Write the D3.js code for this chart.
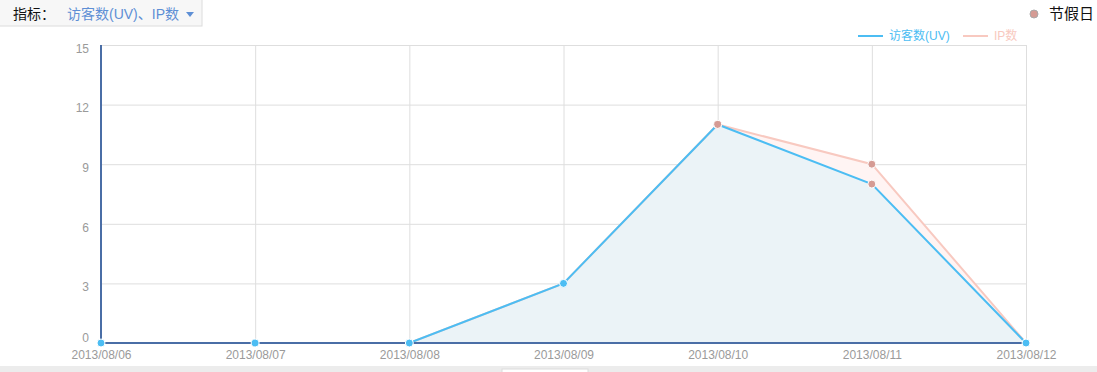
<!DOCTYPE html>
<html>
<head>
<meta charset="utf-8">
<script src="https://cdn.jsdelivr.net/npm/d3@7"></script>
<style>
  body { margin: 0; background: #fff; font-family: Arial, "Liberation Sans", "Noto Sans CJK SC", sans-serif; }
  svg { display: block; }
</style>
</head>
<body>
<div id="chart"></div>
<script>
// data
let dates = ["2013/08/06", "2013/08/07", "2013/08/08", "2013/08/09", "2013/08/10", "2013/08/11", "2013/08/12"];
let uv = [0, 0, 0, 3, 11, 8, 0];
let ip = [0, 0, 0, 3, 11, 9, 0];
let holidays = ["2013/08/10", "2013/08/11"];
let yTicks = [0, 3, 6, 9, 12, 15];

let w = 1097, h = 372;
let plotLeft = 101, plotRight = 1026, plotTop = 45, plotBottom = 343;

let blue = "#4cbdf3", pink = "#f8c9c0", holidayColor = "#d59b94";

let viz = d3.select("#chart").append("svg")
  .attr("width", w)
  .attr("height", h);

// selector box top left
viz.append("rect").attr("x", -1).attr("y", -1).attr("width", 203).attr("height", 27)
  .attr("fill", "#f7f7f7").attr("stroke", "#dcdcdc");
viz.append("text").attr("x", 13).attr("y", 19).text("指标：")
  .style("font-size", "14px").attr("fill", "#111");
viz.append("text").attr("x", 67).attr("y", 19).text("访客数(UV)、IP数")
  .style("font-size", "14px").attr("fill", "#5e8fd5");
viz.append("path").attr("d", "M186,12 L194,12 L190,17 Z").attr("fill", "#5e8fd5");

// holiday legend
viz.append("circle").attr("cx", 1034).attr("cy", 14).attr("r", 4)
  .attr("fill", holidayColor).attr("stroke", "#a9a9a9").attr("stroke-width", 1);
viz.append("text").attr("x", 1049).attr("y", 19).text("节假日")
  .style("font-size", "15px").attr("fill", "#111");

// series legend
viz.append("line").attr("x1", 858).attr("x2", 883).attr("y1", 36).attr("y2", 36)
  .attr("stroke", blue).attr("stroke-width", 2);
viz.append("text").attr("x", 889).attr("y", 40).text("访客数(UV)")
  .style("font-size", "12px").attr("fill", blue);
viz.append("line").attr("x1", 963).attr("x2", 988).attr("y1", 36).attr("y2", 36)
  .attr("stroke", pink).attr("stroke-width", 2);
viz.append("text").attr("x", 994).attr("y", 40).text("IP数")
  .style("font-size", "12px").attr("fill", pink);

let xScale = d3.scalePoint().domain(dates).range([plotLeft, plotRight]);
let yScale = d3.scaleLinear().domain([0, 15]).range([plotBottom, plotTop]);

// grid
viz.append("g").selectAll("line").data(yTicks).enter().append("line")
  .attr("x1", plotLeft).attr("x2", plotRight)
  .attr("y1", d => yScale(d) + 0.5).attr("y2", d => yScale(d) + 0.5)
  .attr("stroke", "#dedede");
viz.append("g").selectAll("line").data(dates).enter().append("line")
  .attr("x1", d => xScale(d) + 0.5).attr("x2", d => xScale(d) + 0.5)
  .attr("y1", plotTop).attr("y2", plotBottom)
  .attr("stroke", "#dedede");

// y labels, sit a little below their gridline (0 sits above the axis)
let yAxis = d3.axisLeft(yScale).tickValues(yTicks).tickSize(0).tickPadding(12);
let yAxisGroup = viz.append("g").attr("transform", "translate(" + plotLeft + ",0)").call(yAxis);
yAxisGroup.select(".domain").remove();
yAxisGroup.selectAll("text").style("font-size", "12px").attr("fill", "#9a9a9a")
  .attr("dy", d => d == 0 ? "-0.12em" : "0.6em")
  .style("font-family", "Arial, 'Liberation Sans', sans-serif");

// x labels
let xAxis = d3.axisBottom(xScale).tickSize(0).tickPadding(7);
let xAxisGroup = viz.append("g").attr("transform", "translate(0," + plotBottom + ")").call(xAxis);
xAxisGroup.select(".domain").remove();
xAxisGroup.selectAll("text").style("font-size", "12px").attr("fill", "#9a9a9a")
  .style("font-family", "Arial, 'Liberation Sans', sans-serif");

function rows(vals) {
  return dates.map(function(d, i) { return { date: d, value: vals[i] }; });
}

let area = d3.area().x(d => xScale(d.date)).y0(yScale(0)).y1(d => yScale(d.value));
let line = d3.line().x(d => xScale(d.date)).y(d => yScale(d.value));

viz.append("path").datum(rows(ip)).attr("d", area).attr("fill", "#fff4f3");
viz.append("path").datum(rows(uv)).attr("d", area).attr("fill", "#ebf3f7");

viz.append("path").datum(rows(ip)).attr("d", line)
  .attr("fill", "none").attr("stroke", pink).attr("stroke-width", 2);
viz.append("path").datum(rows(uv)).attr("d", line)
  .attr("fill", "none").attr("stroke", blue).attr("stroke-width", 2);

// axis lines
viz.append("line").attr("x1", plotLeft).attr("x2", plotLeft).attr("y1", plotTop).attr("y2", plotBottom)
  .attr("stroke", "#4a6ea6").attr("stroke-width", 2);
viz.append("line").attr("x1", plotLeft).attr("x2", plotRight).attr("y1", plotBottom).attr("y2", plotBottom)
  .attr("stroke", "#4a6ea6").attr("stroke-width", 2);
viz.append("line").attr("x1", plotRight + 0.5).attr("x2", plotRight + 0.5).attr("y1", plotTop).attr("y2", plotBottom)
  .attr("stroke", "#dedede");

// points, holidays drawn in holiday colour
function dotColor(d, base) {
  return holidays.indexOf(d.date) >= 0 ? holidayColor : base;
}
let ipPoints = rows(ip).filter(d => holidays.indexOf(d.date) >= 0 && d.value > 0);
viz.append("g").selectAll("circle").data(rows(uv)).enter().append("circle")
  .attr("cx", d => xScale(d.date)).attr("cy", d => yScale(d.value)).attr("r", 4)
  .attr("fill", d => dotColor(d, blue)).attr("stroke", "#fff").attr("stroke-width", 1);
viz.append("g").selectAll("circle").data(ipPoints).enter().append("circle")
  .attr("cx", d => xScale(d.date)).attr("cy", d => yScale(d.value)).attr("r", 4)
  .attr("fill", holidayColor).attr("stroke", "#fff").attr("stroke-width", 1);

// bottom strip
viz.append("rect").attr("x", 0).attr("y", 366).attr("width", w).attr("height", 6).attr("fill", "#ececec");
viz.append("rect").attr("x", 502).attr("y", 369).attr("width", 86).attr("height", 4)
  .attr("fill", "#fff").attr("stroke", "#dcdcdc");
</script>
</body>
</html>
